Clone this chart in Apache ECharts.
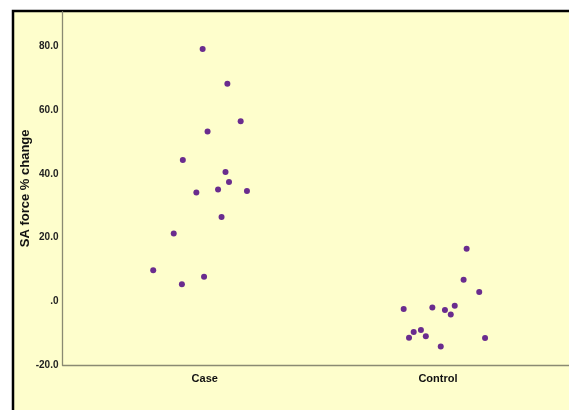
<!DOCTYPE html>
<html>
<head>
<meta charset="utf-8">
<script src="https://cdn.jsdelivr.net/npm/echarts@6/dist/echarts.min.js"></script>
<style>html,body{margin:0;padding:0;background:#fff}#c{width:569px;height:410px}</style>
</head>
<body>
<div id="c"></div>
<script>
var categories = ['Case', 'Control'];
var yTicks = [-20, 0, 20, 40, 60, 80];
var caseValues = [79.3, 68.4, 56.6, 53.4, 44.4, 40.6, 37.5, 34.2, 35.1, 34.7, 26.5, 21.3, 9.8, 7.7, 5.4];
var caseJitter = [-0.009, 0.097, 0.154, 0.012, -0.094, 0.089, 0.104, -0.036, 0.057, 0.181, 0.072, -0.133, -0.221, -0.003, -0.098];
var controlValues = [16.5, 6.8, 2.9, -2.4, -1.9, -1.4, -2.7, -4.1, -9.0, -9.6, -11.4, -11.0, -14.2, -11.5];
var controlJitter = [0.123, 0.110, 0.177, -0.147, -0.024, 0.072, 0.030, 0.055, -0.073, -0.104, -0.124, -0.052, 0.012, 0.202];

function build(values, jitter, pos) {
  return values.map(function (v, i) { return [pos + jitter[i], v]; });
}
var data = build(caseValues, caseJitter, 1).concat(build(controlValues, controlJitter, 2));

var chart = echarts.init(document.getElementById('c'), null, {renderer: 'canvas'});
chart.setOption({
  backgroundColor: '#ffffff',
  animation: false,
  graphic: [{
    type: 'rect', z: -10, silent: true,
    shape: {x: 13, y: 11, width: 700, height: 500},
    style: {fill: '#fefecc', stroke: '#000000', lineWidth: 2.5}
  }],
  grid: {left: 62.5, right: 0, top: 11.7, bottom: 45, containLabel: false},
  xAxis: {
    type: 'value', min: 0.39, max: 2.562,
    splitLine: {show: false},
    axisTick: {show: false},
    axisLine: {show: true, onZero: false, lineStyle: {color: '#8a8a72', width: 1.3}},
    axisLabel: {
      customValues: [1, 2],
      formatter: function (v) { return categories[Math.round(v) - 1] || ''; },
      fontFamily: 'Liberation Sans, Arial, sans-serif', fontWeight: 'bold', fontSize: 11,
      color: '#111', margin: 8
    }
  },
  yAxis: {
    type: 'value', min: -20, max: 91, interval: 20,
    splitLine: {show: false},
    axisTick: {show: false},
    axisLine: {show: true, onZero: false, lineStyle: {color: '#8a8a72', width: 1.3}},
    axisLabel: {
      customValues: yTicks,
      formatter: function (v) { return v === 0 ? '.0' : v.toFixed(1); },
      fontFamily: 'Liberation Sans Narrow, Arial Narrow, sans-serif', fontWeight: 'bold', fontSize: 10,
      color: '#222', margin: 4
    },
    name: 'SA force % change', nameLocation: 'middle', nameGap: 31, nameMoveOverlap: false,
    nameTextStyle: {fontFamily: 'Liberation Sans, Arial, sans-serif', fontWeight: 'bold', fontSize: 13, color: '#111'}
  },
  series: [{
    type: 'scatter', data: data, symbol: 'circle', symbolSize: 6,
    itemStyle: {color: '#6a2c8e', opacity: 1}
  }]
});
</script>
</body>
</html>
